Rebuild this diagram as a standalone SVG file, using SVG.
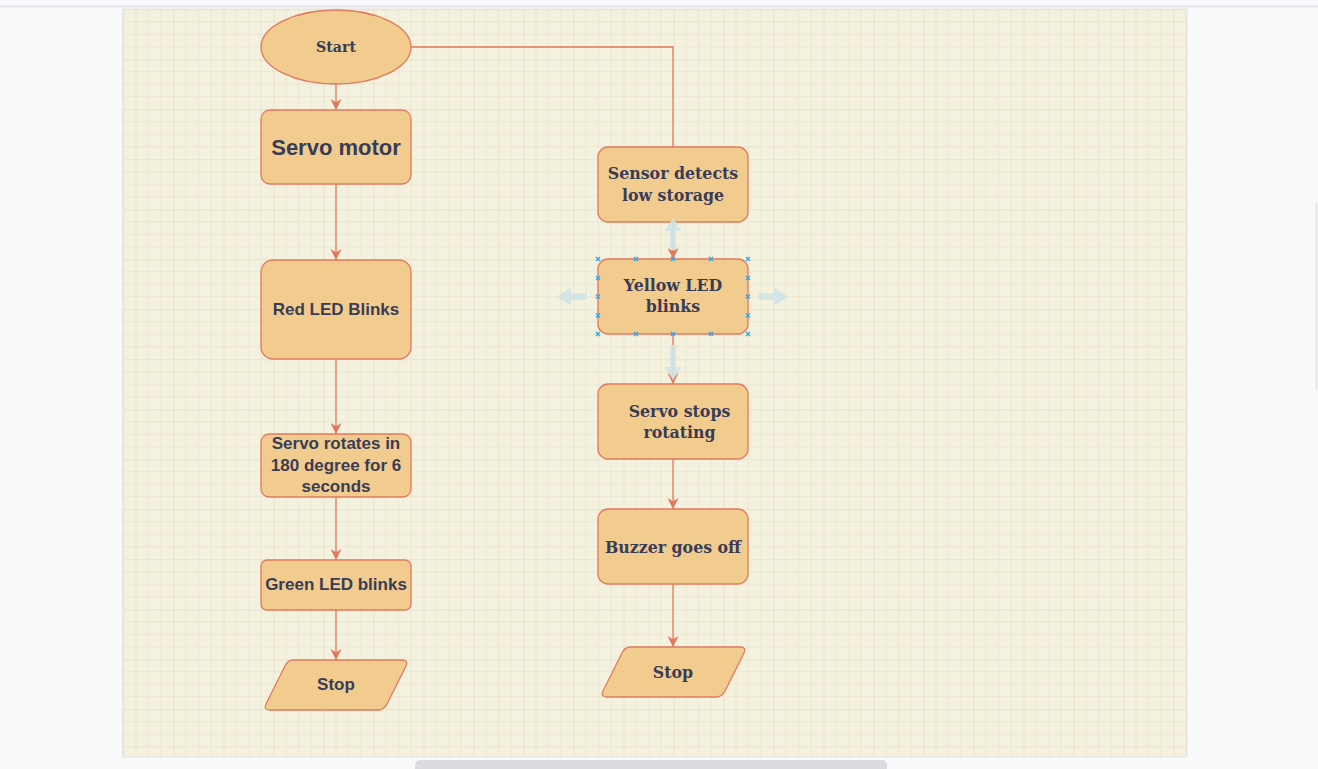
<svg xmlns="http://www.w3.org/2000/svg" width="1318" height="769" viewBox="0 0 1318 769">
<defs>
<style>
.shape{fill:#F2CC8F;stroke:#E07A5F;stroke-width:1.3}
.sans{font-family:"Liberation Sans",Arial,sans-serif;font-weight:bold;fill:#393C56;text-anchor:middle}
.serif{font-family:"DejaVu Serif",Georgia,serif;font-weight:bold;fill:#393C56;text-anchor:middle;font-size:15.8px}
.conn{fill:none;stroke:#E07A5F;stroke-width:1.3}
.minor{stroke:#EAE6D2;stroke-width:1}
.major{stroke:#DBD6C1;stroke-width:1}
.pt{stroke:#33A8E8;stroke-width:1.4;fill:none}
.hint{fill:#CFE3E4;opacity:0.9}
</style>
<pattern id="grid" patternUnits="userSpaceOnUse" x="123.5" y="9.3" width="50" height="50">
<rect width="50" height="50" fill="#F4F1DE"/>
<path class="minor" d="M12.5,0V50M25,0V50M37.5,0V50M0,12.5H50M0,25H50M0,37.5H50"/>
<path class="major" d="M0,0V50M0,0H50"/>
</pattern>
<marker id="arr" viewBox="0 0 10 10" refX="10" refY="5" markerWidth="11" markerHeight="11" markerUnits="userSpaceOnUse" orient="auto">
<path d="M0,0 L10,5 L0,10 L3,5 Z" fill="#E07A5F"/>
</marker>
</defs>
<rect width="1318" height="769" fill="#F8F9FA"/>
<line x1="0" y1="6.5" x2="1318" y2="6.5" stroke="#DEDFE3" stroke-width="1.5"/>
<rect x="122.5" y="9" width="1064.5" height="748" fill="url(#grid)" stroke="#E3E3E3" stroke-width="1"/>
<line x1="1316.5" y1="203" x2="1316.5" y2="390" stroke="#E0E0E0" stroke-width="1.5"/>
<rect x="415" y="760" width="472" height="14" rx="5" fill="#DADCE0"/>

<g id="connectors">
<polyline class="conn" points="411,47 673,47 673,147"/>
<line class="conn" x1="336" y1="84" x2="336" y2="110" marker-end="url(#arr)"/>
<line class="conn" x1="336" y1="184" x2="336" y2="260" marker-end="url(#arr)"/>
<line class="conn" x1="336" y1="359" x2="336" y2="434" marker-end="url(#arr)"/>
<line class="conn" x1="336" y1="497" x2="336" y2="560" marker-end="url(#arr)"/>
<line class="conn" x1="336" y1="610" x2="336" y2="660" marker-end="url(#arr)"/>
<line class="conn" x1="673" y1="222" x2="673" y2="259" marker-end="url(#arr)"/>
<line class="conn" x1="673" y1="334" x2="673" y2="384" marker-end="url(#arr)"/>
<line class="conn" x1="673" y1="459" x2="673" y2="509" marker-end="url(#arr)"/>
<line class="conn" x1="673" y1="584" x2="673" y2="647" marker-end="url(#arr)"/>
</g>

<g id="start">
<ellipse class="shape" cx="336" cy="47" rx="75" ry="37"/>
<text class="serif" x="336" y="52" style="font-size:14.2px">Start</text>
</g>
<g id="servo-motor">
<rect class="shape" x="261" y="110" width="150" height="74" rx="9"/>
<text class="sans" x="336" y="155" font-size="22">Servo motor</text>
</g>
<g id="red-led">
<rect class="shape" x="261" y="260" width="150" height="99" rx="12"/>
<text class="sans" x="336" y="315" font-size="17">Red LED Blinks</text>
</g>
<g id="servo-rotates">
<rect class="shape" x="261" y="434" width="150" height="63" rx="8"/>
<text class="sans" x="336" y="449" font-size="17">Servo rotates in</text>
<text class="sans" x="336" y="471" font-size="17">180 degree for 6</text>
<text class="sans" x="336" y="492" font-size="17">seconds</text>
</g>
<g id="green-led">
<rect class="shape" x="261" y="560" width="150" height="50" rx="6"/>
<text class="sans" x="336" y="590" font-size="17">Green LED blinks</text>
</g>
<g id="stop-left">
<path class="shape" d="M293,660 H402 Q409,660 406,666 L387,704 Q384,710 378,710 H270 Q263,710 266,704 L285,666 Q288,660 293,660 Z"/>
<text class="sans" x="336" y="690" font-size="17">Stop</text>
</g>

<g id="sensor">
<rect class="shape" x="598" y="147" width="150" height="75" rx="10"/>
<text class="serif" x="673" y="178.5">Sensor detects</text>
<text class="serif" x="673" y="200.5">low storage</text>
</g>
<g id="yellow-led">
<rect class="shape" x="598" y="259" width="150" height="75" rx="10"/>
<text class="serif" x="673" y="290.5">Yellow LED</text>
<text class="serif" x="673" y="311.5">blinks</text>
</g>
<g id="selection-hints">
<path class="hint" d="M673,218 L681.5,231 L676,231 L676,250 L670,250 L670,231 L664.5,231 Z"/>
<path class="hint" d="M673,380 L681.5,367 L676,367 L676,345 L670,345 L670,367 L664.5,367 Z"/>
<path class="hint" d="M557,296.5 L571,287.5 L571,293.2 L587,293.2 L587,299.8 L571,299.8 L571,305.5 Z"/>
<path class="hint" d="M788,296.5 L774,287.5 L774,293.2 L759,293.2 L759,299.8 L774,299.8 L774,305.5 Z"/>
<path class="pt" d="M596,257l4,4m0,-4l-4,4M634,257l4,4m0,-4l-4,4M671,257l4,4m0,-4l-4,4M709,257l4,4m0,-4l-4,4M746,257l4,4m0,-4l-4,4M596,332l4,4m0,-4l-4,4M634,332l4,4m0,-4l-4,4M671,332l4,4m0,-4l-4,4M709,332l4,4m0,-4l-4,4M746,332l4,4m0,-4l-4,4M596,276l4,4m0,-4l-4,4M596,294.5l4,4m0,-4l-4,4M596,313.5l4,4m0,-4l-4,4M746,276l4,4m0,-4l-4,4M746,294.5l4,4m0,-4l-4,4M746,313.5l4,4m0,-4l-4,4"/>
</g>
<g id="servo-stops">
<rect class="shape" x="598" y="384" width="150" height="75" rx="10"/>
<text class="serif" x="679.5" y="416.5">Servo stops</text>
<text class="serif" x="679.5" y="437.5">rotating</text>
</g>
<g id="buzzer">
<rect class="shape" x="598" y="509" width="150" height="75" rx="10"/>
<text class="serif" x="673" y="552.5">Buzzer goes off</text>
</g>
<g id="stop-right">
<path class="shape" d="M630,647 H740 Q747,647 744,653 L725,691 Q722,697 716,697 H607 Q600,697 603,691 L622,653 Q625,647 630,647 Z"/>
<text class="serif" x="673" y="677.5">Stop</text>
</g>
</svg>
